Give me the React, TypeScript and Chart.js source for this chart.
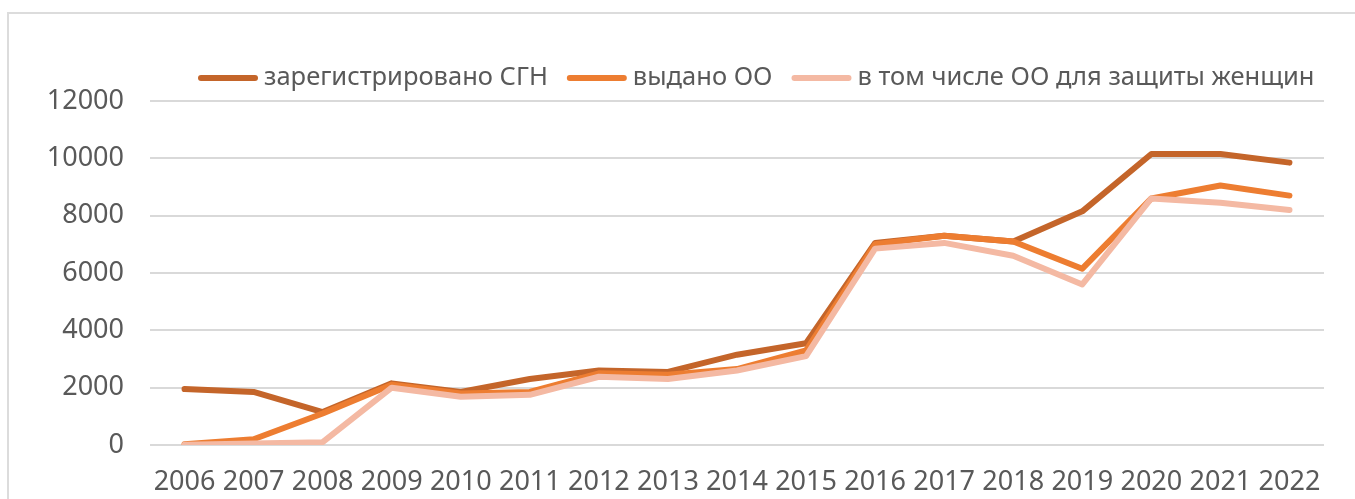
import React, { useEffect, useRef } from 'react';
import { Chart, registerables } from 'chart.js';

Chart.register(...registerables);

const years = ['2006', '2007', '2008', '2009', '2010', '2011', '2012', '2013', '2014', '2015', '2016', '2017', '2018', '2019', '2020', '2021', '2022'];
const registered = [1950, 1850, 1150, 2150, 1850, 2300, 2600, 2550, 3150, 3550, 7050, 7300, 7100, 8150, 10150, 10150, 9850];
const issued = [30, 200, 1100, 2100, 1800, 1850, 2500, 2450, 2650, 3300, 7000, 7300, 7100, 6150, 8600, 9050, 8700];
const women = [10, 50, 100, 2000, 1680, 1750, 2380, 2300, 2600, 3100, 6850, 7050, 6600, 5600, 8600, 8450, 8200];
const seriesNames = ['зарегистрировано СГН', 'выдано ОО', 'в том числе ОО для защиты женщин'];
const seriesColors = ['#C4652A', '#ED7D31', '#F4B9A3'];

const FONT = '"Noto Sans", sans-serif';
const TEXT = '#595959';

export default function App() {
  const ref = useRef<HTMLCanvasElement>(null);

  useEffect(() => {
    if (!ref.current) return;
    const legendPlugin = {
      id: 'customLegend',
      afterDraw(chart: any) {
        const ctx = chart.ctx;
        ctx.save();
        ctx.font = `25.5px ${FONT}`;
        ctx.textBaseline = 'middle';
        ctx.textAlign = 'left';
        let x = 198;
        const y = 78;
        chart.data.datasets.forEach((ds: any) => {
          ctx.strokeStyle = ds.borderColor;
          ctx.lineWidth = 6;
          ctx.lineCap = 'round';
          ctx.beginPath();
          ctx.moveTo(x + 3, y);
          ctx.lineTo(x + 57, y);
          ctx.stroke();
          ctx.fillStyle = TEXT;
          ctx.fillText(ds.label, x + 66, y);
          x += 66 + ctx.measureText(ds.label).width + 19;
        });
        ctx.restore();
      },
    };

    const mk = (i: number, data: number[], order: number) => ({
      label: seriesNames[i],
      data,
      borderColor: seriesColors[i],
      backgroundColor: seriesColors[i],
      borderWidth: 6,
      borderCapStyle: 'round' as const,
      borderJoinStyle: 'round' as const,
      pointRadius: 0,
      tension: 0,
      fill: false,
      order,
    });

    const chart = new Chart(ref.current, {
      type: 'line',
      data: {
        labels: years,
        datasets: [mk(0, registered, 3), mk(1, issued, 2), mk(2, women, 1)],
      },
      options: {
        animation: false,
        responsive: false,
        devicePixelRatio: 1,
        layout: { padding: { left: 0, right: 31, top: 101, bottom: 0 } },
        plugins: { legend: { display: false }, tooltip: { enabled: false } },
        scales: {
          x: {
            offset: true,
            grid: { display: false },
            border: { display: false },
            ticks: {
              color: TEXT,
              font: { family: FONT, size: 27 },
              padding: 13,
              autoSkip: false,
              maxRotation: 0,
              minRotation: 0,
            },
            afterFit(s: any) {
              s.height = 54;
            },
          },
          y: {
            min: 0,
            max: 12000,
            ticks: {
              stepSize: 2000,
              color: TEXT,
              font: { family: FONT, size: 27 },
              padding: 26,
              callback: (v: any) => String(v),
            },
            grid: { color: '#D9D9D9', lineWidth: 2, drawTicks: false },
            border: { display: false },
            afterFit(s: any) {
              s.width = 150;
            },
          },
        },
      },
      plugins: [legendPlugin],
    });
    return () => chart.destroy();
  }, []);

  return (
    <div style={{ position: 'fixed', inset: 0, overflow: 'hidden', background: '#fff' }}>
      <div
        style={{
          position: 'absolute',
          left: 7,
          top: 12,
          width: 1500,
          height: 700,
          border: '2px solid #DCDCDC',
          boxSizing: 'border-box',
        }}
      />
      <canvas
        ref={ref}
        width={1355}
        height={499}
        style={{ position: 'absolute', left: 0, top: 0, width: 1355, height: 499 }}
      />
    </div>
  );
}
